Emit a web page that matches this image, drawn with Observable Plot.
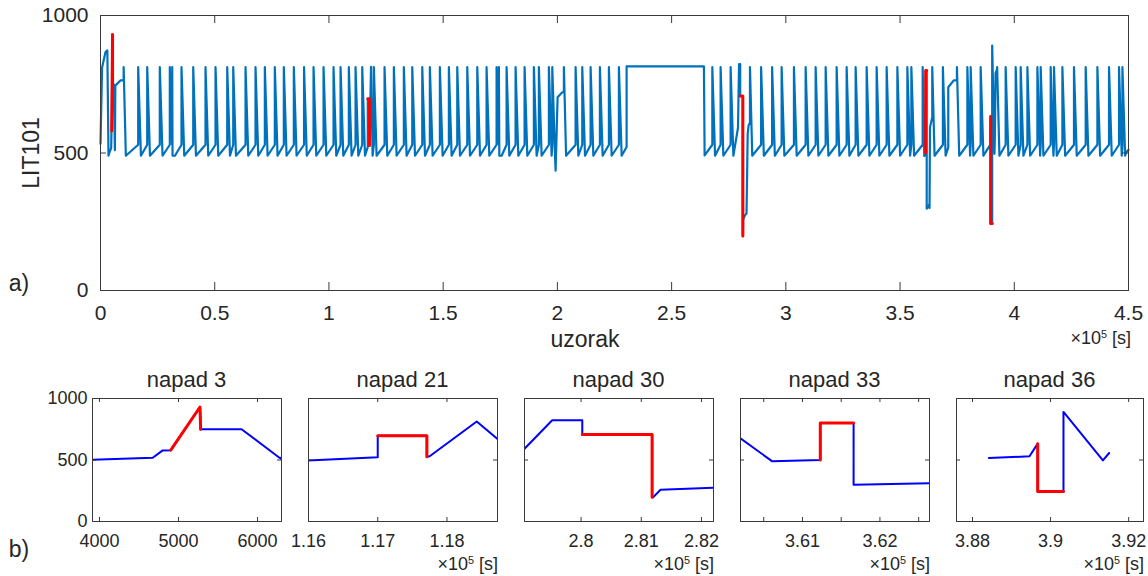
<!DOCTYPE html>
<html><head><meta charset="utf-8">
<script src="https://cdn.jsdelivr.net/npm/d3@7"></script>
<script src="https://cdn.jsdelivr.net/npm/@observablehq/plot@0.6"></script>
<style>
body{margin:0;background:#fff;}
#wrap{position:relative;width:1148px;height:576px;overflow:hidden;font-family:"Liberation Sans",Arial,Helvetica,sans-serif;color:#262626;}
.lbl{position:absolute;white-space:nowrap;line-height:1;}
.lbl sup{font-size:0.6em;vertical-align:0.55em;line-height:0;}
</style></head><body><div id="wrap"></div>
<script>
// ---------------- data (time in units of 1e5 samples, LIT101 level) ----------------
const xTicksMain = [0, 0.5, 1, 1.5, 2, 2.5, 3, 3.5, 4, 4.5];
const yTicks = [0, 500, 1000];

// regular fill/drain cycles: time of each sharp rise
const cyclePeaks = [0.165, 0.2045, 0.2596, 0.3034, 0.3139, 0.3546, 0.4059, 0.4597, 0.5035, 0.5547, 0.581,
  0.6349, 0.6786, 0.7194, 0.7631, 0.8025, 0.8463, 0.891, 0.9326, 0.9764, 1.0201, 1.0508, 1.0871, 1.1165, 1.1458,
  1.1966, 1.2434, 1.2842, 1.3279, 1.3647, 1.4085, 1.4418, 1.4856, 1.525, 1.5617, 1.6055, 1.6493, 1.69, 1.7338,
  1.7439, 1.7776, 1.817, 1.8564, 1.8971, 1.919, 1.9628, 1.9777,
  2.0797, 2.1089, 2.1454, 2.1861, 2.2255, 2.2693,
  2.6782, 2.7145, 2.7583,
  2.8918, 2.94, 2.9816, 3.0355, 3.0867, 3.1305, 3.1743, 3.2224, 3.2662, 3.3056, 3.3538, 3.3975, 3.4413, 3.4882,
  3.532, 3.5495, 3.6875, 3.7946, 3.8091, 3.8529,
  3.9623, 4.0061, 4.028, 4.0574, 4.1012, 4.1156, 4.1594, 4.1739, 4.2106, 4.2614, 4.3126, 4.3638, 4.4147, 4.4585, 4.4733];
const cycleLow = 530;      // level just before each rise
const cycleHigh = 812;     // top of each rise
const cycleTrough = 490;   // level after each drain
const cycleDrain = 0.012;  // drain duration

// irregular stretches read point by point (start, attacks, dip, plateau, end)
const irregularPoints = [
  [0, 534], [0.007, 811], [0.022, 867], [0.030, 873], [0.035, 490], [0.03912, 502], [0.04674, 518], [0.048, 578],
  [0.04902, 580], [0.05272, 931], [0.0528, 749], [0.05798, 750], [0.06294, 510], [0.065, 745], [0.087, 764],
  [0.1013, 764], [0.1013, 812], [0.111, 490],
  [1.17, 522], [1.17, 697], [1.1771, 697], [1.1771, 527], [1.1775, 530], [1.1843, 813], [1.1873, 670], [1.1911, 490],
  [1.9921, 436], [2.0009, 703], [2.0214, 721], [2.0285, 721], [2.0285, 812], [2.038, 490],
  [2.303, 522], [2.303, 815], [2.6414, 815], [2.6445, 491],
  [2.7906, 592], [2.7952, 823], [2.8002, 823], [2.8002, 707], [2.8118, 707], [2.8118, 198], [2.812, 198],
  [2.8132, 258], [2.822, 275], [2.828, 280], [2.833, 570], [2.837, 600], [2.843, 610], [2.843, 812], [2.853, 490],
  [3.599, 530], [3.599, 812], [3.6061, 489], [3.6123, 500], [3.6123, 800], [3.6166, 800], [3.6166, 298],
  [3.6264, 311], [3.629, 300], [3.631, 594], [3.641, 630], [3.641, 812], [3.651, 490],
  [3.711, 520], [3.711, 739], [3.735, 764], [3.749, 764], [3.749, 812], [3.759, 490],
  [3.8842, 516], [3.8946, 530], [3.8967, 633], [3.8967, 244], [3.9033, 244], [3.9033, 891], [3.9134, 497],
  [3.915, 557], [3.918, 790], [3.925, 805], [3.925, 812], [3.935, 490],
  [4.49, 503], [4.5, 512]
];

// attack intervals (red)
const attack3 = [[0.04902, 580], [0.05272, 931], [0.0528, 749]];
const attack21 = [[1.17, 697], [1.1771, 697], [1.1771, 527]];
const attack30 = [[2.8002, 707], [2.8118, 707], [2.8118, 198]];
const attack33 = [[3.6123, 500], [3.6123, 800], [3.6166, 800]];
const attack36 = [[3.8967, 633], [3.8967, 244], [3.9033, 244]];

const panelTitles = ["napad 3", "napad 21", "napad 30", "napad 33", "napad 36"];
const panelDomains = [[0.03912, 0.06303], [1.16, 1.1873], [2.7906, 2.822], [3.602, 3.6264], [3.8759, 3.9238]];
const panelTicks = [[0.04, 0.05, 0.06], [1.16, 1.17, 1.18], [2.8, 2.81, 2.82], [3.61, 3.62], [3.88, 3.9, 3.92]];
const panelMinorTicks = [[], [], [], [3.605, 3.615, 3.625], []];
const panelWindows = [null, null, null, null, [3.8842, 3.915]];

// ---------------- build ----------------
const blue = [];
for (const p of cyclePeaks) {
  blue.push({t: p, v: cycleLow}, {t: p, v: cycleHigh}, {t: p + cycleDrain, v: cycleTrough});
}
for (const [t, v] of irregularPoints) blue.push({t, v});
blue.sort((a, b) => a.t - b.t);

const attacks = [attack3, attack21, attack30, attack33, attack36];
const red = attacks.flatMap((a, k) => a.map(([t, v]) => ({t, v, id: k})));

const FONT = '"Liberation Sans", Arial, Helvetica, sans-serif';
const AX = "#3a3a3a";
const wrap = document.getElementById("wrap");

function place(el, left, top) {
  el.style.position = "absolute"; el.style.left = left + "px"; el.style.top = top + "px";
  wrap.appendChild(el);
}
function label(html, x, y, size, anchor = "center", rotate = false) {
  const d = document.createElement("div");
  d.className = "lbl"; d.innerHTML = html; d.style.fontSize = size + "px";
  d.style.left = x + "px"; d.style.top = y + "px";
  const tx = anchor === "center" ? "-50%" : anchor === "right" ? "-100%" : "0";
  d.style.transform = rotate ? "translate(-50%,-50%) rotate(-90deg)" : `translate(${tx},-50%)`;
  wrap.appendChild(d);
}
const plain = d => String(d);

// main chart
{
  const W = 1148, mL = 100, mR = 20, mT = 15, mB = 55, H = 345;
  const fw = W - mL - mR, fh = H - mT - mB;
  const xl = 6 * 4.5 / fw, yl = 8 * 1000 / fh;
  const svg = Plot.plot({
    width: W, height: H, marginLeft: mL, marginRight: mR, marginTop: mT, marginBottom: mB,
    style: {fontFamily: FONT, fontSize: "21px", color: "#262626", background: "none", overflow: "visible"},
    x: {domain: [0, 4.5], ticks: xTicksMain, tickSize: 0, tickPadding: 15, tickFormat: plain, label: null},
    y: {domain: [0, 1000], ticks: yTicks, tickSize: 0, tickPadding: 12, tickFormat: plain, label: null},
    marks: [
      Plot.line(blue, {x: "t", y: "v", stroke: "#0072BD", strokeWidth: 2.2}),
      Plot.line(red, {x: "t", y: "v", z: "id", stroke: "#ff0000", strokeWidth: 3}),
      Plot.ruleX(xTicksMain, {x: d => d, y1: 0, y2: yl, stroke: AX}),
      Plot.ruleX(xTicksMain, {x: d => d, y1: 1000 - yl, y2: 1000, stroke: AX}),
      Plot.ruleY(yTicks, {y: d => d, x1: 0, x2: xl, stroke: AX}),
      Plot.ruleY(yTicks, {y: d => d, x1: 4.5 - xl, x2: 4.5, stroke: AX}),
      Plot.frame({stroke: AX})
    ]
  });
  place(svg, 0, 0);
}
label("LIT101", 31, 153, 23, "center", true);
label("uzorak", 585, 339, 23);
label("×10<sup>5</sup> [s]", 1131, 338, 18, "right");
label("a)", 19, 283, 23);
label("b)", 19, 549, 23);

// small panels
const panelX0 = [92, 308, 524, 740, 956];
function windowed(d0, d1, strict) {
  if (strict) return blue.filter(p => p.t >= strict[0] && p.t <= strict[1]);
  let a = -1, b = -1;
  blue.forEach((p, i) => { if (p.t >= d0 && p.t <= d1) { if (a < 0) a = i; b = i; } });
  return blue.slice(Math.max(0, a - 1), Math.min(blue.length, b + 2));
}
panelTitles.forEach((title, i) => {
  const [d0, d1] = panelDomains[i];
  const mL = 60, mR = 4, mT = 5, mB = 45, fw = i === 4 ? 187 : 189, fh = 123;
  const xl = 4 * (d1 - d0) / fw, yl = 4 * 1000 / fh;
  const allTicks = panelTicks[i].concat(panelMinorTicks[i]);
  const svg = Plot.plot({
    width: mL + fw + mR, height: mT + fh + mB, marginLeft: mL, marginRight: mR, marginTop: mT, marginBottom: mB,
    style: {fontFamily: FONT, fontSize: "18px", color: "#262626", background: "none", overflow: "visible"},
    x: {domain: [d0, d1], ticks: panelTicks[i], tickSize: 0, tickPadding: 13,
        tickFormat: i === 0 ? (d => String(Math.round(d * 1e5))) : plain, label: null},
    y: i === 0 ? {domain: [0, 1000], ticks: yTicks, tickSize: 0, tickPadding: 5, tickFormat: plain, label: null}
               : {domain: [0, 1000], axis: null},
    marks: [
      Plot.line(windowed(d0, d1, panelWindows[i]), {x: "t", y: "v", stroke: "#0000ff", strokeWidth: 2, clip: true}),
      Plot.line(red.filter(p => p.id === i), {x: "t", y: "v", stroke: "#ff0000", strokeWidth: 3, clip: true}),
      Plot.ruleX(allTicks, {x: d => d, y1: 0, y2: yl, stroke: AX}),
      Plot.ruleX(allTicks, {x: d => d, y1: 1000 - yl, y2: 1000, stroke: AX}),
      Plot.ruleY(yTicks, {y: d => d, x1: d0, x2: d0 + xl, stroke: AX}),
      Plot.ruleY(yTicks, {y: d => d, x1: d1 - xl, x2: d1, stroke: AX}),
      Plot.frame({stroke: AX})
    ]
  });
  place(svg, panelX0[i] - mL, 398 - mT);
  label(title, panelX0[i] + fw / 2, 380, 22);
  if (i > 0) label("×10<sup>5</sup> [s]", panelX0[i] + fw + 1, 564, 18, "right");
});
</script></body></html>
